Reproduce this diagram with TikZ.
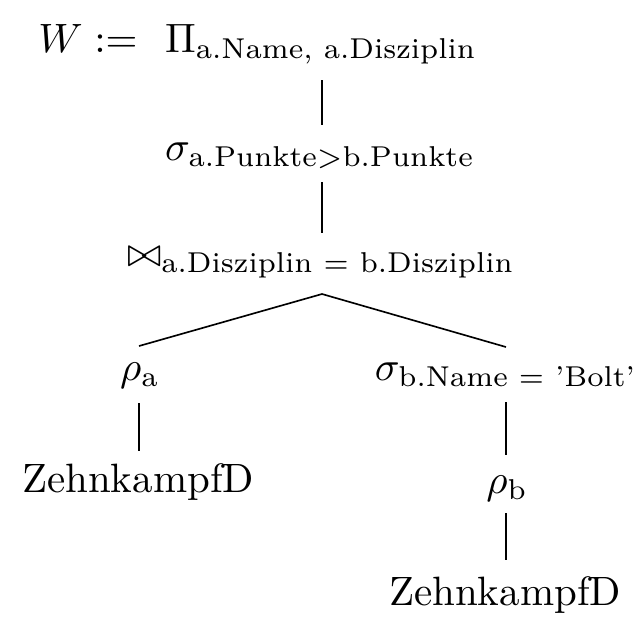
\documentclass[tikz,border=0pt]{standalone}
\usepackage{amsmath}
\usetikzlibrary{calc}
\begin{document}
\begin{tikzpicture}[x=0.2439pt,y=-0.2439pt,
  lbl/.style={inner sep=0pt,anchor=base},
  edge/.style={line width=0.4pt,black}]
\useasboundingbox (0,0) rectangle (644,622);
% nodes
\node[lbl] (root) at (321,52) {$\Pi_{\text{a.Name, a.Disziplin}}$};
\node[lbl,anchor=base east] (w) at ([xshift=-6.3pt]root.base west) {$W :=$};
\node[lbl] (sig) at (320,160) {$\sigma_{\text{a.Punkte}>\text{b.Punkte}}$};
\node[lbl] (join) at (321,266) {$\bowtie_{\text{a.Disziplin = b.Disziplin}}$};
\node[lbl] (ra) at (140,380) {$\rho_{\text{a}}$};
\node[lbl] (sb) at (506,380) {$\sigma_{\text{b.Name = 'Bolt'}}$};
\node[lbl] (zl) at (138,492) {ZehnkampfD};
\node[lbl] (rb) at (507,493) {$\rho_{\text{b}}$};
\node[lbl] (zr) at (505,605) {ZehnkampfD};
% connectors
\coordinate (apex) at ($(join.base -| sig.base)+(2,28)$);
\draw[edge] ($(root.base -| sig.base)+(2,28)$) -- ($(sig.base)+(2,-35)$);
\draw[edge] ($(sig.base)+(2,22)$) -- ($(join.base -| sig.base)+(2,-33)$);
\draw[edge] (apex) -- ($(ra.base)+(-1,-34)$);
\draw[edge] (apex) -- ($(sb.base -| rb.base)+(-1,-33)$);
\draw[edge] ($(ra.base)+(-1,23)$) -- ($(zl.base -| ra.base)+(-1,-41)$);
\draw[edge] ($(sb.base -| rb.base)+(-1,22)$) -- ($(rb.base)+(-1,-38)$);
\draw[edge] ($(rb.base)+(-1,20)$) -- ($(zr.base -| rb.base)+(-1,-45)$);
\end{tikzpicture}
\end{document}
